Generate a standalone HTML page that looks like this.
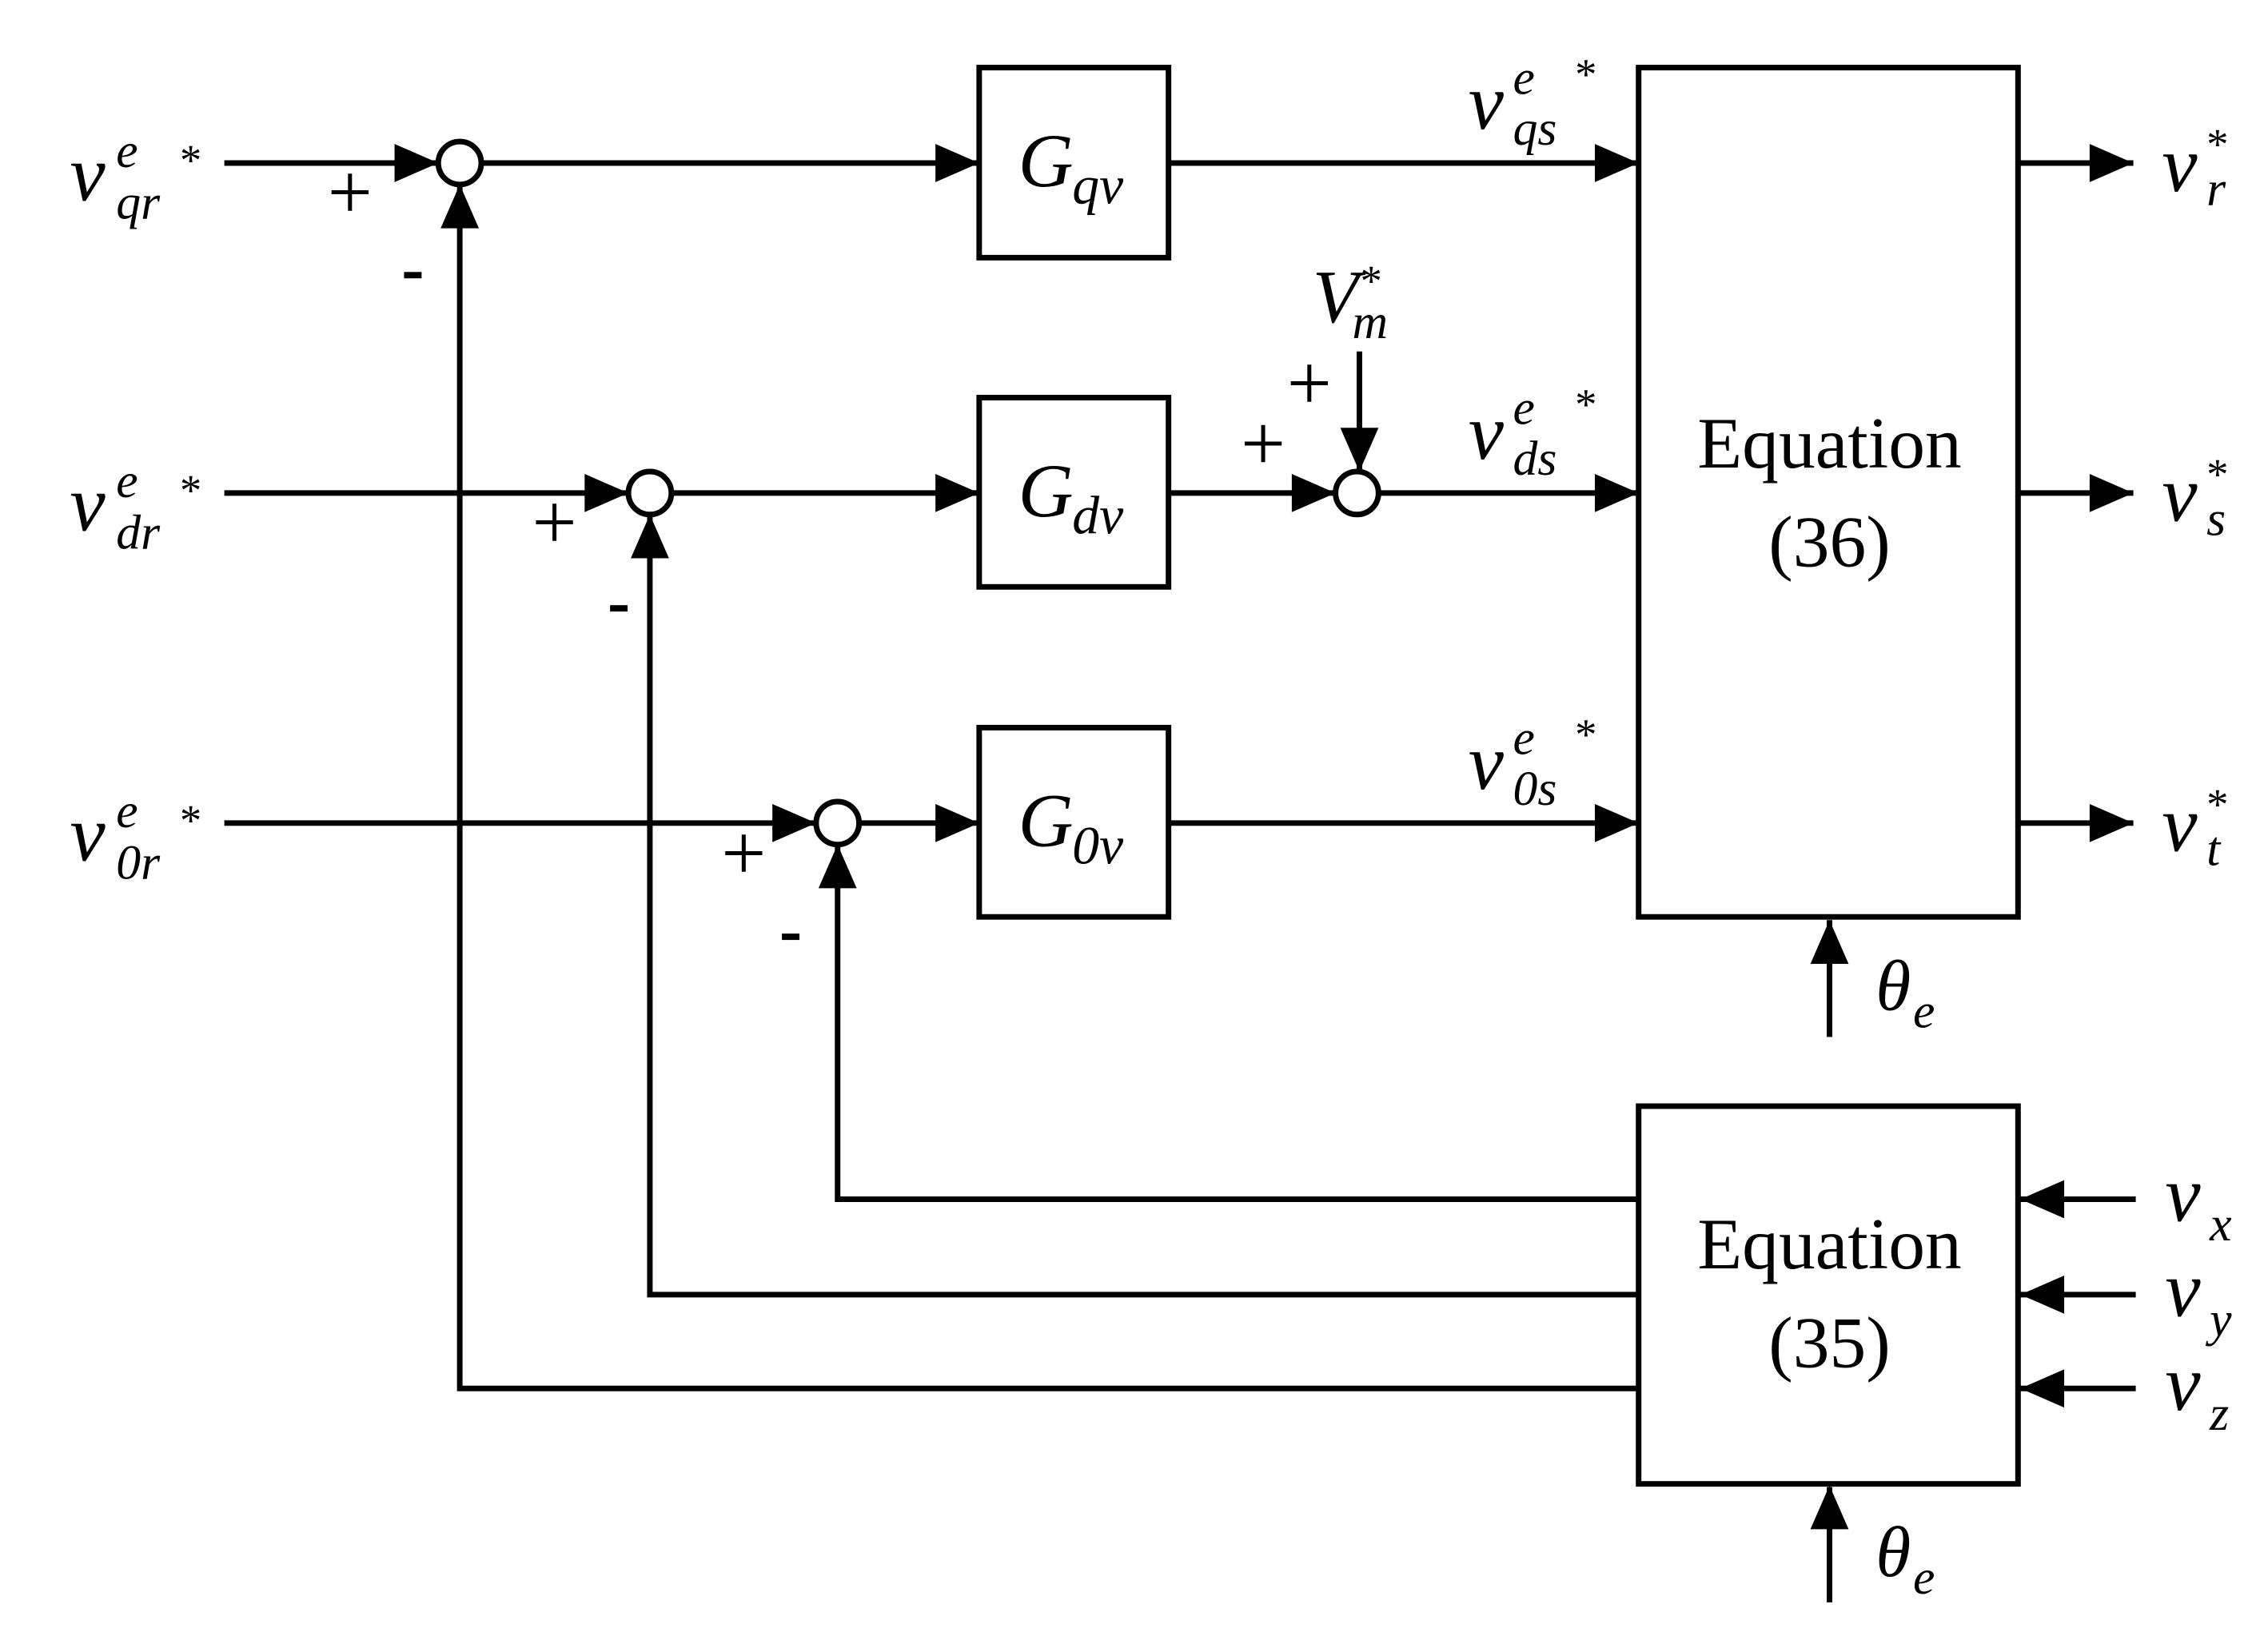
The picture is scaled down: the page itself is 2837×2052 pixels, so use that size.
<!DOCTYPE html>
<html><head><meta charset="utf-8"><style>html,body{margin:0;padding:0;background:#fff}svg{display:block}text{font-family:"Liberation Serif",serif;fill:#000}.i{font-style:italic}</style></head>
<body>
<svg width="2837" height="2052" viewBox="0 0 2837 2052" xmlns="http://www.w3.org/2000/svg">
<g transform="scale(0.995)">
<g stroke="#000" stroke-width="7" fill="none">
<line x1="282" y1="205" x2="551" y2="205"/>
<line x1="605" y1="205" x2="1231" y2="205"/>
<line x1="282" y1="620" x2="790" y2="620"/>
<line x1="844" y1="620" x2="1231" y2="620"/>
<line x1="282" y1="1035" x2="1026" y2="1035"/>
<line x1="1080" y1="1035" x2="1231" y2="1035"/>
<line x1="1469" y1="205" x2="2060" y2="205"/>
<line x1="1469" y1="620" x2="1679" y2="620"/>
<line x1="1733" y1="620" x2="2060" y2="620"/>
<line x1="1469" y1="1035" x2="2060" y2="1035"/>
<line x1="1709" y1="442" x2="1709" y2="593"/>
<line x1="2537" y1="205" x2="2682" y2="205"/>
<line x1="2537" y1="620" x2="2682" y2="620"/>
<line x1="2537" y1="1035" x2="2682" y2="1035"/>
<line x1="2300" y1="1304" x2="2300" y2="1157"/>
<line x1="2300" y1="2015" x2="2300" y2="1870"/>
<polyline points="2060,1508 1053,1508 1053,1062"/>
<polyline points="2060,1628 817,1628 817,647"/>
<polyline points="2060,1746 578,1746 578,232"/>
<line x1="2685" y1="1508" x2="2540" y2="1508"/>
<line x1="2685" y1="1628" x2="2540" y2="1628"/>
<line x1="2685" y1="1746" x2="2540" y2="1746"/>
<rect x="1231" y="85" width="238" height="239"/>
<rect x="1231" y="500" width="238" height="238"/>
<rect x="1231" y="915" width="238" height="238"/>
<rect x="2060" y="85" width="477" height="1068"/>
<rect x="2060" y="1391" width="477" height="475"/>
<circle cx="578" cy="205" r="27"/>
<circle cx="817" cy="620" r="27"/>
<circle cx="1053" cy="1035" r="27"/>
<circle cx="1706" cy="620" r="27"/>
</g>
<g fill="#000">
<polygon points="551,205 496,181 496,229"/>
<polygon points="1231,205 1176,181 1176,229"/>
<polygon points="790,620 735,596 735,644"/>
<polygon points="1231,620 1176,596 1176,644"/>
<polygon points="1026,1035 971,1011 971,1059"/>
<polygon points="1231,1035 1176,1011 1176,1059"/>
<polygon points="1679,620 1624,596 1624,644"/>
<polygon points="2060,205 2005,181 2005,229"/>
<polygon points="2060,620 2005,596 2005,644"/>
<polygon points="2060,1035 2005,1011 2005,1059"/>
<polygon points="2682,205 2627,181 2627,229"/>
<polygon points="2682,620 2627,596 2627,644"/>
<polygon points="2682,1035 2627,1011 2627,1059"/>
<polygon points="2540,1508 2595,1484 2595,1532"/>
<polygon points="2540,1628 2595,1604 2595,1652"/>
<polygon points="2540,1746 2595,1722 2595,1770"/>
<polygon points="578,232 554,287 602,287"/>
<polygon points="817,647 793,702 841,702"/>
<polygon points="1053,1062 1029,1117 1077,1117"/>
<polygon points="2300,1157 2276,1212 2324,1212"/>
<polygon points="2300,1868 2276,1923 2324,1923"/>
<polygon points="1709,593 1685,538 1733,538"/>
</g>
<g font-size="96" class="i">
<text x="1280" y="234" class="i">G</text><text x="1348" y="256" font-size="68" class="i">qv</text>
<text x="1280" y="649" class="i">G</text><text x="1348" y="671" font-size="68" class="i">dv</text>
<text x="1280" y="1064" class="i">G</text><text x="1348" y="1086" font-size="68" class="i">0v</text>
</g>
<g font-size="92" text-anchor="middle">
<text x="2300" y="588">Equation</text>
<text x="2300" y="712">(36)</text>
<text x="2300" y="1595">Equation</text>
<text x="2300" y="1719">(35)</text>
</g>
<g class="i">
<text x="88" y="252" font-size="100" class="i">v</text><text x="146" y="210" font-size="62" class="i">e</text><text x="146" y="275" font-size="62" class="i">qr</text><text x="226" y="220" font-size="55" font-style="normal">*</text>
<text x="88" y="667" font-size="100" class="i">v</text><text x="146" y="625" font-size="62" class="i">e</text><text x="146" y="690" font-size="62" class="i">dr</text><text x="226" y="635" font-size="55" font-style="normal">*</text>
<text x="88" y="1082" font-size="100" class="i">v</text><text x="146" y="1040" font-size="62" class="i">e</text><text x="146" y="1105" font-size="62" class="i">0r</text><text x="226" y="1050" font-size="55" font-style="normal">*</text>
<text x="1846" y="162" font-size="100" class="i">v</text><text x="1902" y="118" font-size="62" class="i">e</text><text x="1902" y="182" font-size="62" class="i">qs</text><text x="1980" y="112" font-size="55" font-style="normal">*</text>
<text x="1846" y="577" font-size="100" class="i">v</text><text x="1902" y="533" font-size="62" class="i">e</text><text x="1902" y="597" font-size="62" class="i">ds</text><text x="1980" y="527" font-size="55" font-style="normal">*</text>
<text x="1846" y="992" font-size="100" class="i">v</text><text x="1902" y="948" font-size="62" class="i">e</text><text x="1902" y="1012" font-size="62" class="i">0s</text><text x="1980" y="942" font-size="55" font-style="normal">*</text>
<text x="1650" y="405" font-size="95" class="i">V</text><text x="1700" y="425" font-size="62" class="i">m</text><text x="1710" y="372" font-size="55" font-style="normal">*</text>
<text x="2718" y="240" font-size="100" class="i">v</text><text x="2774" y="258" font-size="62" class="i">r</text><text x="2774" y="200" font-size="55" font-style="normal">*</text>
<text x="2718" y="655" font-size="100" class="i">v</text><text x="2774" y="673" font-size="62" class="i">s</text><text x="2774" y="615" font-size="55" font-style="normal">*</text>
<text x="2718" y="1070" font-size="100" class="i">v</text><text x="2774" y="1088" font-size="62" class="i">t</text><text x="2774" y="1030" font-size="55" font-style="normal">*</text>
<text x="2722" y="1535" font-size="100" class="i">v</text><text x="2778" y="1560" font-size="62" class="i">x</text>
<text x="2722" y="1655" font-size="100" class="i">v</text><text x="2778" y="1680" font-size="62" class="i">y</text>
<text x="2722" y="1773" font-size="100" class="i">v</text><text x="2778" y="1798" font-size="62" class="i">z</text>
<text x="2358" y="1270" font-size="90" class="i">θ</text><text x="2405" y="1292" font-size="62" class="i">e</text>
<text x="2358" y="1982" font-size="90" class="i">θ</text><text x="2405" y="2004" font-size="62" class="i">e</text>
</g>
<g font-size="100">
<text x="440" y="275" text-anchor="middle">+</text>
<text x="697" y="690" text-anchor="middle">+</text>
<text x="935" y="1106" text-anchor="middle">+</text>
<text x="1588" y="591" text-anchor="middle">+</text>
<text x="1646" y="515" text-anchor="middle">+</text>
</g>
<g fill="#000">
<rect x="508" y="342" width="22" height="8"/>
<rect x="767" y="761" width="22" height="8"/>
<rect x="983" y="1174" width="22" height="8"/>
</g>
</g>
</svg>
</body></html>
